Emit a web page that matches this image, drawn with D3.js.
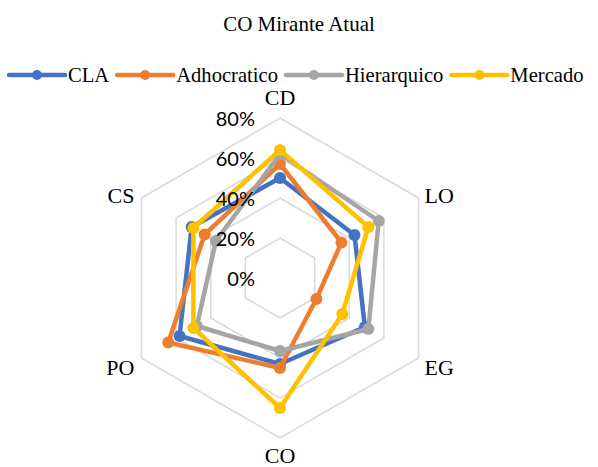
<!DOCTYPE html>
<html>
<head>
<meta charset="utf-8">
<script src="https://cdn.jsdelivr.net/npm/d3@7"></script>
<style>
  html, body { margin: 0; padding: 0; background: #fff; }
  svg { display: block; }
</style>
</head>
<body>
<svg id="chart" width="598" height="467"></svg>
<script>
// Radar axes (clockwise from the top)
const categories = ["CD", "LO", "EG", "CO", "PO", "CS"];

// Series values (share of responses)
const seriesNames = ["CLA", "Adhocratico", "Hierarquico", "Mercado"];
const claValues = [0.50, 0.43, 0.49, 0.43, 0.58, 0.51];
const adhocraticoValues = [0.57, 0.355, 0.21, 0.45, 0.645, 0.435];
const hierarquicoValues = [0.62, 0.57, 0.51, 0.365, 0.48, 0.37];
const mercadoValues = [0.64, 0.51, 0.36, 0.65, 0.50, 0.50];

// Radial axis ticks
const tickValues = [0, 0.2, 0.4, 0.6, 0.8];
const tickLabels = ["0%", "20%", "40%", "60%", "80%"];

const colors = ["#4472C4", "#ED7D31", "#A5A5A5", "#FFC000"];
const series = [claValues, adhocraticoValues, hierarquicoValues, mercadoValues];

const svg = d3.select("#chart");
const W = 598;
const cx = 280, cy = 278, R = 160;

const r = d3.scaleLinear().domain([0, 0.8]).range([0, R]);
const angle = d3.scaleLinear().domain([0, categories.length]).range([0, 2 * Math.PI]);

const serif = "'Liberation Serif', 'Times New Roman', serif";
const sans = "Lato, 'Open Sans', sans-serif";

// Title
svg.append("text")
  .attr("x", W / 2).attr("y", 31)
  .attr("text-anchor", "middle")
  .style("font-family", serif).style("font-size", "21px").attr("fill", "#000")
  .text("CO Mirante Atual");

// Legend
const legend = svg.append("g");
const lineLen = 56;
let lx = 9;
const ly = 75;
seriesNames.forEach((name, i) => {
  const g = legend.append("g");
  g.append("line")
    .attr("x1", lx).attr("x2", lx + lineLen).attr("y1", ly).attr("y2", ly)
    .attr("stroke", colors[i]).attr("stroke-width", 4.5).attr("stroke-linecap", "round");
  g.append("circle")
    .attr("cx", lx + lineLen / 2).attr("cy", ly).attr("r", 5)
    .attr("fill", colors[i]);
  const t = g.append("text")
    .attr("x", lx + lineLen + 3).attr("y", ly + 7)
    .style("font-family", serif).style("font-size", "20.6px").attr("fill", "#000")
    .text(name);
  lx += lineLen + 3 + t.node().getComputedTextLength() + 8;
});

const plot = svg.append("g").attr("transform", `translate(${cx},${cy})`);

// Hexagonal grid rings
const ringLine = d3.lineRadial()
  .angle((d, i) => angle(i))
  .radius(d => r(d))
  .curve(d3.curveLinearClosed);

plot.append("g").selectAll("path")
  .data(tickValues.filter(v => v > 0))
  .join("path")
  .attr("d", v => ringLine(categories.map(() => v)))
  .attr("fill", "none")
  .attr("stroke", "#D9D9D9")
  .attr("stroke-width", 1.5);

// Series lines and markers
const seriesLine = d3.lineRadial()
  .angle((d, i) => angle(i))
  .radius(d => r(d))
  .curve(d3.curveLinearClosed);

series.forEach((vals, s) => {
  const g = plot.append("g");
  g.append("path")
    .attr("d", seriesLine(vals))
    .attr("fill", "none")
    .attr("stroke", colors[s])
    .attr("stroke-width", 4.5)
    .attr("stroke-linejoin", "round");
  g.selectAll("circle")
    .data(vals)
    .join("circle")
    .attr("cx", (d, i) => r(d) * Math.sin(angle(i)))
    .attr("cy", (d, i) => -r(d) * Math.cos(angle(i)))
    .attr("r", 6)
    .attr("fill", colors[s]);
});

// Radial tick labels along the top axis
plot.append("g").selectAll("text")
  .data(tickValues)
  .join("text")
  .attr("x", -25)
  .attr("y", (d) => -r(d) + 8)
  .attr("text-anchor", "end")
  .style("font-family", sans).style("font-size", "20px").attr("fill", "#000")
  .text((d, i) => tickLabels[i]);

// Category labels just outside the outer ring
plot.append("g").selectAll("text")
  .data(categories)
  .join("text")
  .each(function (d, i) {
    const a = angle(i);
    const vx = R * Math.sin(a), vy = -R * Math.cos(a);
    const sx = Math.round(Math.sin(a) * 1000) / 1000;
    const cy_ = Math.cos(a);
    const t = d3.select(this);
    if (Math.abs(sx) < 0.01) {
      t.attr("text-anchor", "middle").attr("x", vx)
       .attr("y", cy_ > 0 ? vy - 13 : vy + 25);
    } else {
      t.attr("text-anchor", sx > 0 ? "start" : "end")
       .attr("x", vx + (sx > 0 ? 6 : -7))
       .attr("y", cy_ > 0 ? vy + 5 : vy + 17);
    }
  })
  .style("font-family", serif).style("font-size", "22px").attr("fill", "#000")
  .text(d => d);
</script>
</body>
</html>
